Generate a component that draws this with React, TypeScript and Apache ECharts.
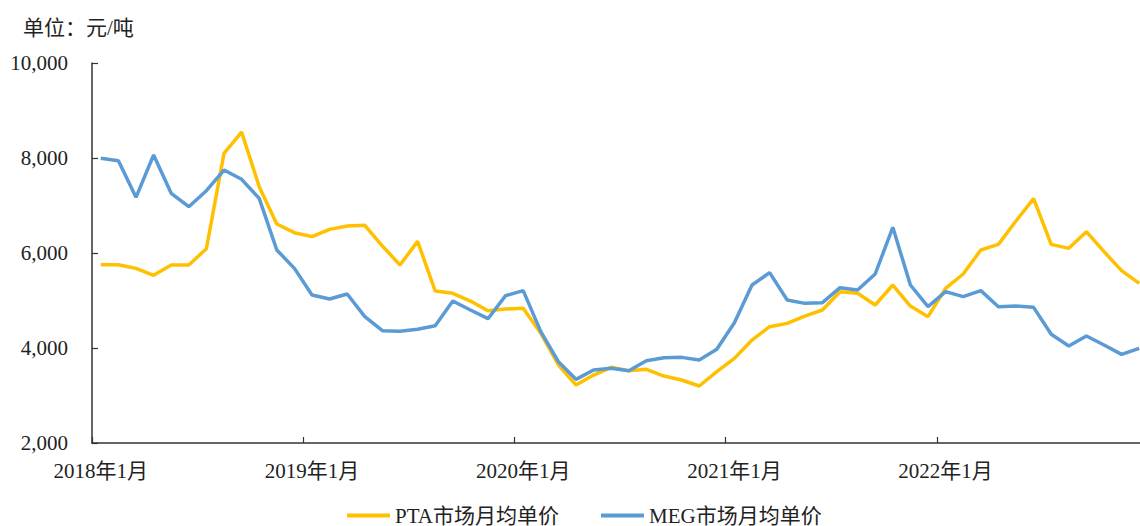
import React, { useEffect, useRef } from "react";
import * as echarts from "echarts";

const categories: string[] = [
  "2018年1月", "2018年2月", "2018年3月", "2018年4月", "2018年5月", "2018年6月",
  "2018年7月", "2018年8月", "2018年9月", "2018年10月", "2018年11月", "2018年12月",
  "2019年1月", "2019年2月", "2019年3月", "2019年4月", "2019年5月", "2019年6月",
  "2019年7月", "2019年8月", "2019年9月", "2019年10月", "2019年11月", "2019年12月",
  "2020年1月", "2020年2月", "2020年3月", "2020年4月", "2020年5月", "2020年6月",
  "2020年7月", "2020年8月", "2020年9月", "2020年10月", "2020年11月", "2020年12月",
  "2021年1月", "2021年2月", "2021年3月", "2021年4月", "2021年5月", "2021年6月",
  "2021年7月", "2021年8月", "2021年9月", "2021年10月", "2021年11月", "2021年12月",
  "2022年1月", "2022年2月", "2022年3月", "2022年4月", "2022年5月", "2022年6月",
  "2022年7月", "2022年8月", "2022年9月", "2022年10月", "2022年11月", "2022年12月",
];

const ptaPrice: number[] = [
  5754, 5754, 5677, 5530, 5747, 5747, 6091, 8098, 8547, 7396, 6610, 6428,
  6344, 6498, 6568, 6582, 6147, 5747, 6245, 5200, 5151, 4989, 4786, 4821,
  4835, 4309, 3642, 3221, 3431, 3593, 3523, 3551, 3410, 3326, 3200, 3502,
  3782, 4168, 4449, 4519, 4673, 4800, 5186, 5151, 4905, 5326, 4884, 4660,
  5256, 5558, 6063, 6182, 6674, 7144, 6182, 6098, 6449, 6028, 5628, 5361,
];

const megPrice: number[] = [
  7993, 7944, 7172, 8063, 7256, 6975, 7312, 7747, 7551, 7151, 6063, 5677,
  5116, 5031, 5137, 4660, 4365, 4351, 4393, 4470, 4989, 4800, 4617, 5102,
  5207, 4344, 3712, 3340, 3537, 3572, 3523, 3733, 3796, 3803, 3747, 3972,
  4533, 5326, 5586, 5010, 4940, 4954, 5270, 5221, 5558, 6540, 5326, 4870,
  5186, 5081, 5207, 4870, 4884, 4856, 4288, 4042, 4253, 4063, 3866, 3993,
];

const seriesNames: string[] = ["PTA市场月均单价", "MEG市场月均单价"];
const unitLabel = "单位：元/吨";

const FONT = "'Liberation Serif', 'Times New Roman', 'Noto Sans CJK SC', serif";

export default function App() {
  const ref = useRef<HTMLDivElement>(null);

  useEffect(() => {
    if (!ref.current) return;
    const chart = echarts.init(ref.current, undefined, { renderer: "svg" });
    chart.setOption({
      animation: false,
      backgroundColor: "#ffffff",
      textStyle: { fontFamily: FONT },
      title: {
        text: unitLabel,
        left: 18,
        top: 12,
        textStyle: { fontFamily: FONT, fontSize: 21, fontWeight: "normal", color: "#222" },
      },
      grid: { left: 92, right: 0, top: 63, bottom: 83, containLabel: false },
      legend: {
        left: 342,
        top: 500,
        icon: "rect",
        itemWidth: 43,
        itemHeight: 4,
        itemGap: 42,
        textStyle: { fontFamily: FONT, fontSize: 21, color: "#222" },
        data: seriesNames,
      },
      xAxis: {
        type: "category",
        data: categories,
        boundaryGap: true,
        axisLine: { show: true, lineStyle: { color: "#333", width: 1.5 } },
        axisTick: { show: true, inside: true, length: 6, interval: 11, lineStyle: { color: "#333", width: 1.2 } },
        axisLabel: {
          interval: 11,
          margin: 17,
          fontFamily: FONT,
          fontSize: 21,
          color: "#222",
        },
        splitLine: { show: false },
      },
      yAxis: {
        type: "value",
        min: 2000,
        max: 10000,
        interval: 2000,
        axisLine: { show: true, lineStyle: { color: "#333", width: 1.5 } },
        axisTick: { show: true, inside: true, length: 6, lineStyle: { color: "#333", width: 1.2 } },
        axisLabel: {
          margin: 24,
          fontFamily: FONT,
          fontSize: 21,
          color: "#222",
          formatter: (v: number) => v.toLocaleString("en-US"),
        },
        splitLine: { show: false },
      },
      series: [
        {
          name: seriesNames[0],
          type: "line",
          data: ptaPrice,
          symbol: "none",
          color: "#FFC000",
          lineStyle: { color: "#FFC000", width: 3.5 },
          z: 2,
        },
        {
          name: seriesNames[1],
          type: "line",
          data: megPrice,
          symbol: "none",
          color: "#5B9BD5",
          lineStyle: { color: "#5B9BD5", width: 3.5 },
          z: 3,
        },
      ],
    });
    return () => chart.dispose();
  }, []);

  return (
    <div
      style={{
        position: "absolute",
        left: 0,
        top: 0,
        width: 1140,
        height: 526,
        overflow: "hidden",
        background: "#fff",
      }}
    >
      <div ref={ref} style={{ width: 1148, height: 526 }} />
    </div>
  );
}
